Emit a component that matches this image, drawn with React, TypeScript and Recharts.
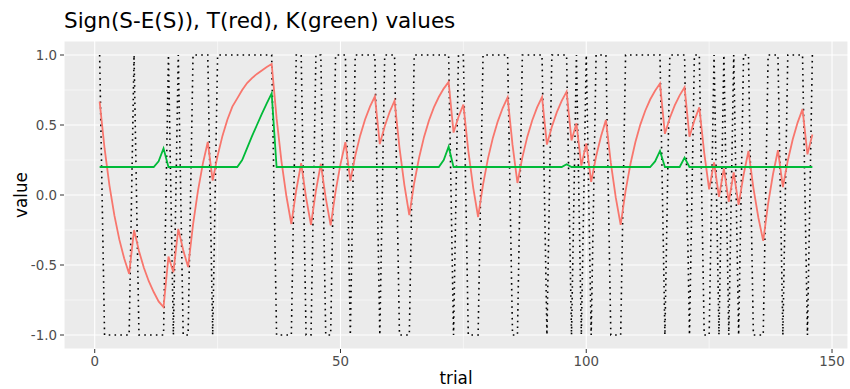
import React from 'react';
import { LineChart, Line, XAxis, YAxis, CartesianGrid, ReferenceLine } from 'recharts';

// Sign(S - E(S)) per trial
const signValues: number[] = [
  1, -1, -1, -1, -1, -1, -1, 1, -1, -1,
  -1, -1, -1, -1, 1, -1, 1, -1, -1, 1,
  1, 1, 1, -1, 1, 1, 1, 1, 1, 1,
  1, 1, 1, 1, 1, 1, -1, -1, -1, -1,
  1, 1, -1, -1, 1, 1, -1, -1, 1, 1,
  1, -1, 1, 1, 1, 1, 1, -1, 1, 1,
  1, -1, -1, -1, 1, 1, 1, 1, 1, 1,
  1, 1, -1, 1, 1, -1, -1, -1, 1, 1,
  1, 1, 1, 1, -1, -1, 1, 1, 1, 1,
  1, -1, 1, 1, 1, 1, -1, 1, -1, 1,
  -1, 1, 1, 1, -1, -1, -1, 1, 1, 1,
  1, 1, 1, 1, 1, -1, 1, 1, 1, 1,
  -1, 1, 1, -1, -1, 1, -1, 1, -1, 1,
  -1, 1, 1, -1, -1, -1, 1, 1, 1, -1,
  1, 1, 1, 1, -1, 1,
];

// T (red)
const tValues: number[] = [
  0.667, 0.334, 0.067, -0.146, -0.317, -0.454, -0.563, -0.25, -0.4, -0.52,
  -0.616, -0.693, -0.76, -0.8, -0.44, -0.552, -0.242, -0.393, -0.515, -0.212,
  0.03, 0.224, 0.379, 0.103, 0.28, 0.424, 0.539, 0.631, 0.69, 0.75,
  0.8, 0.835, 0.865, 0.89, 0.915, 0.936, 0.549, 0.239, -0.009, -0.207,
  0.034, 0.227, -0.018, -0.214, 0.029, 0.223, -0.022, -0.217, 0.026, 0.221,
  0.377, 0.1, 0.28, 0.424, 0.539, 0.631, 0.705, 0.364, 0.491, 0.593,
  0.674, 0.339, 0.071, -0.143, 0.086, 0.268, 0.415, 0.532, 0.626, 0.7,
  0.76, 0.808, 0.446, 0.557, 0.646, 0.317, 0.053, -0.157, 0.074, 0.26,
  0.408, 0.526, 0.621, 0.697, 0.358, 0.086, 0.269, 0.415, 0.532, 0.626,
  0.7, 0.36, 0.488, 0.59, 0.672, 0.738, 0.39, 0.512, 0.21, 0.368,
  0.094, 0.275, 0.42, 0.536, 0.229, -0.017, -0.214, 0.029, 0.223, 0.378,
  0.503, 0.602, 0.682, 0.745, 0.796, 0.437, 0.55, 0.64, 0.712, 0.77,
  0.416, 0.533, 0.626, 0.301, 0.041, 0.233, -0.014, 0.189, -0.049, 0.161,
  -0.071, 0.143, 0.314, 0.051, -0.159, -0.327, -0.062, 0.15, 0.32, 0.056,
  0.245, 0.396, 0.517, 0.613, 0.29, 0.432,
];

// K (green)
const kValues: number[] = [
  0.2, 0.2, 0.2, 0.2, 0.2, 0.2, 0.2, 0.2, 0.2, 0.2,
  0.2, 0.2, 0.24, 0.333, 0.2, 0.2, 0.2, 0.2, 0.2, 0.2,
  0.2, 0.2, 0.2, 0.2, 0.2, 0.2, 0.2, 0.2, 0.2, 0.25,
  0.335, 0.42, 0.5, 0.58, 0.655, 0.726, 0.2, 0.2, 0.2, 0.2,
  0.2, 0.2, 0.2, 0.2, 0.2, 0.2, 0.2, 0.2, 0.2, 0.2,
  0.2, 0.2, 0.2, 0.2, 0.2, 0.2, 0.2, 0.2, 0.2, 0.2,
  0.2, 0.2, 0.2, 0.2, 0.2, 0.2, 0.2, 0.2, 0.2, 0.2,
  0.25, 0.345, 0.2, 0.2, 0.2, 0.2, 0.2, 0.2, 0.2, 0.2,
  0.2, 0.2, 0.2, 0.2, 0.2, 0.2, 0.2, 0.2, 0.2, 0.2,
  0.2, 0.2, 0.2, 0.2, 0.2, 0.22, 0.2, 0.2, 0.2, 0.2,
  0.2, 0.2, 0.2, 0.2, 0.2, 0.2, 0.2, 0.2, 0.2, 0.2,
  0.2, 0.2, 0.2, 0.24, 0.315, 0.2, 0.2, 0.2, 0.2, 0.267,
  0.2, 0.2, 0.2, 0.2, 0.2, 0.2, 0.2, 0.2, 0.2, 0.2,
  0.2, 0.2, 0.2, 0.2, 0.2, 0.2, 0.2, 0.2, 0.2, 0.2,
  0.2, 0.2, 0.2, 0.2, 0.2, 0.2,
];

const xTicks = [0, 50, 100, 150];
const xMinor = [25, 75, 125];
const yTicks = [-1, -0.5, 0, 0.5, 1];
const yMinor = [-0.75, -0.25, 0.25, 0.75];

const data = signValues.map((s, i) => ({
  trial: i + 1,
  s,
  T: tValues[i],
  K: kValues[i],
}));

const W = 850;
const H = 389;
const FONT = '"DejaVu Sans", sans-serif';

export default function App() {
  return (
    <div style={{ position: 'absolute', left: 0, top: 0, width: W, height: H, background: '#fff', fontFamily: FONT }}>
      <LineChart width={W} height={H} data={data} margin={{ top: 41, right: 2, bottom: 0, left: 0 }}>
        <CartesianGrid fill="#EBEBEB" stroke="#FFFFFF" strokeWidth={1.1} />
        {xMinor.map((x) => (
          <ReferenceLine key={'xm' + x} x={x} stroke="#FFFFFF" strokeWidth={0.55} />
        ))}
        {yMinor.map((y) => (
          <ReferenceLine key={'ym' + y} y={y} stroke="#FFFFFF" strokeWidth={0.55} />
        ))}
        <XAxis
          dataKey="trial"
          type="number"
          domain={[-6.25, 153.25]}
          ticks={xTicks}
          allowDataOverflow
          height={40}
          axisLine={false}
          tickSize={4}
          tickMargin={3}
          tickLine={{ stroke: '#333333' }}
          tick={{ fill: '#4D4D4D', fontSize: 13.4, fontFamily: FONT }}
          interval={0}
        />
        <YAxis
          type="number"
          domain={[-1.1, 1.1]}
          ticks={yTicks}
          allowDataOverflow
          width={64}
          axisLine={false}
          tickSize={4}
          tickMargin={3}
          tickLine={{ stroke: '#333333' }}
          tick={{ fill: '#4D4D4D', fontSize: 13.4, fontFamily: FONT }}
          tickFormatter={(v: number) => v.toFixed(1)}
          interval={0}
        />
        <Line
          type="linear"
          dataKey="s"
          stroke="#000000"
          strokeWidth={1.6}
          strokeDasharray="1.6 4.2"
          dot={false}
          activeDot={false}
          isAnimationActive={false}
        />
        <Line
          type="linear"
          dataKey="T"
          stroke="#F8766D"
          strokeWidth={1.8}
          dot={false}
          activeDot={false}
          isAnimationActive={false}
        />
        <Line
          type="linear"
          dataKey="K"
          stroke="#00BA38"
          strokeWidth={1.8}
          dot={false}
          activeDot={false}
          isAnimationActive={false}
        />
      </LineChart>
      <svg width={W} height={H} style={{ position: 'absolute', left: 0, top: 0, pointerEvents: 'none' }}>
        <text x={64} y={28} fontSize={21.5} fill="#000" fontFamily={FONT}>
          Sign(S-E(S)), T(red), K(green) values
        </text>
        <text x={456} y={384} fontSize={16.8} fill="#000" textAnchor="middle" fontFamily={FONT}>
          trial
        </text>
        <text x={0} y={0} fontSize={16.8} fill="#000" textAnchor="middle" fontFamily={FONT} transform="translate(27,195) rotate(-90)">
          value
        </text>
      </svg>
    </div>
  );
}
